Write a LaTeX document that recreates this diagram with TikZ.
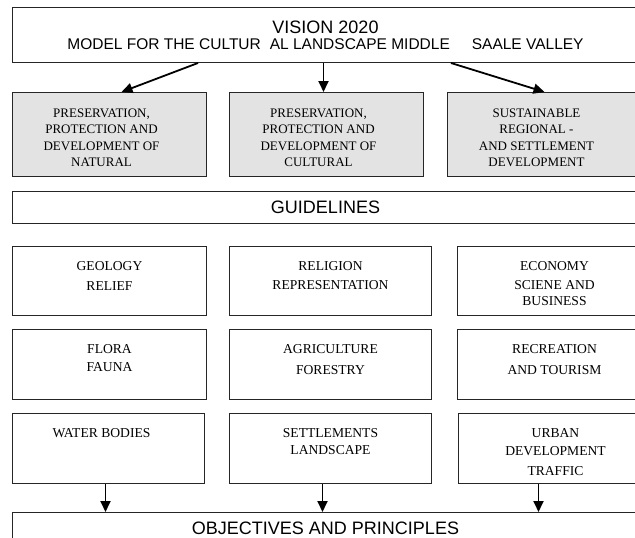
\documentclass[tikz,border=0pt]{standalone}
\usepackage{fontspec}
\setmainfont{Liberation Serif}
\setsansfont{Liberation Sans}
\usetikzlibrary{arrows.meta, positioning}

\begin{document}
\begin{tikzpicture}[x=1pt, y=-1pt,
    frame/.style={rectangle, draw=black!85, line width=1pt, anchor=north west, inner sep=0pt, minimum width=194pt},
    shaded/.style={frame, fill=black!11, minimum height=84pt},
    cell/.style={frame, minimum height=69pt},
    wide/.style={frame, minimum width=626pt, align=center, font=\sffamily\fontsize{18}{16}\selectfont},
    boxtext/.style={inner sep=0pt, align=center, font=\fontsize{13.6}{19}\selectfont},
    graytext/.style={boxtext, font=\fontsize{13}{16.5}\selectfont},
    flow/.style={-{Triangle[length=11pt,width=10pt]}, line width=1.8pt},
    node distance=15.5pt
]
\useasboundingbox (0,0) rectangle (635,538);
\clip (0,0) rectangle (635,538);

% vision
\node[wide, minimum height=55pt] (vision) at (12,7) {VISION 2020\\{\fontsize{15.5}{17}\selectfont MODEL FOR THE CULTUR\hspace{9pt}AL LANDSCAPE MIDDLE\hspace{22pt}SAALE VALLEY}};

% fields of action
\node[shaded] (nat) at (12,92) {};
\node[shaded] (cul) at (229,92) {};
\node[shaded] (sus) at (447,92) {};
\node[graytext, below=16.6pt of nat.north, xshift=-8pt] {PRESERVATION,\\PROTECTION AND\\DEVELOPMENT OF\\NATURAL};
\node[graytext, below=16.6pt of cul.north, xshift=-8pt] {PRESERVATION,\\PROTECTION AND\\DEVELOPMENT OF\\CULTURAL};
\node[graytext, below=16.6pt of sus.north, xshift=-8pt] {SUSTAINABLE\\REGIONAL -\\AND SETTLEMENT\\DEVELOPMENT};

\node[wide, minimum height=32pt] (guide) at (12,191) {GUIDELINES};

% topics
\node[cell] (geo) at (12,246) {};
\node[cell, minimum width=202pt] (rel) at (229,246) {};
\node[cell] (eco) at (457,246) {};
\node[cell, minimum height=70pt] (flo) at (12,329) {};
\node[cell, minimum width=202pt, minimum height=70pt] (agr) at (229,329) {};
\node[cell, minimum height=70pt] (rec) at (457,329) {};
\node[cell, minimum width=192pt, minimum height=70pt] (wat) at (12,413) {};
\node[cell, minimum width=202pt, minimum height=70pt] (set) at (229,413) {};
\node[cell, minimum height=70pt] (urb) at (458,413) {};

\node[boxtext, below=of geo.north] {GEOLOGY\\[1pt]RELIEF};
\node[boxtext, below=of rel.north] {RELIGION\\REPRESENTATION};
\node[boxtext, below=of eco.north] {ECONOMY\\SCIENE AND\\[-3pt]BUSINESS};
\node[boxtext, below=of flo.north] {FLORA\\[-1pt]FAUNA};
\node[boxtext, below=of agr.north] {AGRICULTURE\\[2pt]FORESTRY};
\node[boxtext, below=of rec.north] {RECREATION\\[2pt]AND TOURISM};
\node[boxtext, below=of wat.north, xshift=-7pt] {WATER BODIES};
\node[boxtext, below=of set.north] {SETTLEMENTS\\[-2pt]LANDSCAPE};
\node[boxtext, below=of urb.north] {URBAN\\[-1pt]DEVELOPMENT\\[1pt]TRAFFIC};

\node[wide, minimum height=32pt] (obj) at (12,512) {OBJECTIVES AND PRINCIPLES};

% arrows
\draw[flow] ([xshift=186pt]vision.south west) -- ([xshift=12pt]nat.north);
\draw[flow] ([xshift=-3pt]cul.north |- vision.south) -- ([xshift=-3pt]cul.north);
\draw[flow] ([xshift=439pt]vision.south west) -- (sus.north);
\draw[flow] ([xshift=-3pt]wat.south) -- ([xshift=-3pt]wat.south |- obj.north);
\draw[flow] ([xshift=-8pt]set.south) -- ([xshift=-8pt]set.south |- obj.north);
\draw[flow] ([xshift=-17pt]urb.south) -- ([xshift=-17pt]urb.south |- obj.north);

\end{tikzpicture}
\end{document}
